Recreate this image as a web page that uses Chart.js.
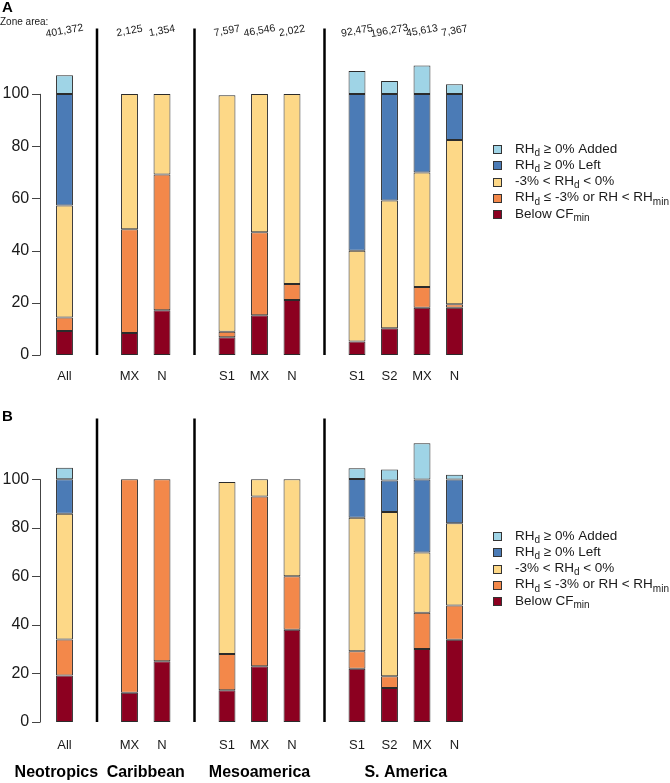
<!DOCTYPE html>
<html>
<head>
<meta charset="utf-8">
<script src="https://cdn.jsdelivr.net/npm/chart.js@4.4.0/dist/chart.umd.min.js"></script>
<style>
  body { margin: 0; background: #fff; }
  canvas { position: absolute; left: 0; }
  #chartA { top: 0; }
  #chartB { top: 390px; }
</style>
</head>
<body>
<canvas id="chartA" width="670" height="390"></canvas>
<canvas id="chartB" width="670" height="393"></canvas>
<script>
// categories (empty slots hold the black region separators)
const categories = ['All', '', 'MX', 'N', '', 'S1', 'MX', 'N', '', 'S1', 'S2', 'MX', 'N'];
const separatorSlots = [1, 4, 8];
const groupNames = ['Neotropics', 'Caribbean', 'Mesoamerica', 'S. America'];
const groupCentres = [-0.25, 2.5, 6, 10.5];
const zoneAreas = ['401,372', '', '2,125', '1,354', '', '7,597', '46,546', '2,022', '', '92,475', '196,273', '45,613', '7,367'];
const yTicks = [0, 20, 40, 60, 80, 100];

// panel A, percent of area per class
const belowA  = [9.2, null, 8.4, 17.1, null, 6.8, 15.2, 21.1, null, 5.2, 10.2, 18.1, 18.1];
const severeA = [5.2, null, 39.8, 52.0, null, 2.1, 31.8, 6.1, null, null, null, 7.9, 1.3];
const mildA   = [42.9, null, 51.8, 30.9, null, 90.6, 53.0, 72.8, null, 34.7, 49.0, 43.9, 62.9];
const leftA   = [42.7, null, null, null, null, null, null, null, null, 60.1, 40.8, 30.1, 17.7];
const addedA  = [7.1, null, null, null, null, null, null, null, null, 8.8, 4.9, 10.9, 3.7];

// panel B
const belowB  = [19.2, null, 12.1, 25.0, null, 13.1, 23.0, 38.0, null, 21.9, 14.0, 30.1, 33.9];
const severeB = [14.8, null, 87.9, 75.0, null, 14.9, 69.9, 22.0, null, 7.2, 4.8, 14.9, 14.1];
const mildB   = [51.8, null, null, null, null, 70.9, 7.1, 40.0, null, 55.0, 67.7, 24.8, 33.9];
const leftB   = [14.2, null, null, null, null, null, null, null, null, 16.0, 13.0, 30.1, 18.0];
const addedB  = [4.8, null, null, null, null, null, null, null, null, 4.4, 4.5, 14.9, 2.0];

// stacking order bottom -> top
const seriesNames = ['Below CFmin', 'RHd <= -3% or RH < RHmin', '-3% < RHd < 0%', 'RHd >= 0% Left', 'RHd >= 0% Added'];
const seriesColors = ['#8c0020', '#f3884a', '#fdd887', '#4b7bb6', '#9fd4e6'];
// legend, top -> bottom; {x} is a subscript
const legendLabels = ['RH{d} ≥ 0% Added', 'RH{d} ≥ 0% Left', '-3% < RH{d} < 0%', 'RH{d} ≤ -3% or RH < RH{min}', 'Below CF{min}'];

const FONT = '"Liberation Sans", Arial, sans-serif';
Chart.defaults.font.family = FONT;
Chart.defaults.color = '#1a1a1a';

function drawRich(ctx, x, y, text, size) {
    const parts = text.split(/\{(.*?)\}/);
    parts.forEach((p, i) => {
        const sub = i % 2 === 1;
        ctx.font = (sub ? Math.round(size * 0.72) : size) + 'px ' + FONT;
        ctx.fillText(p, x, y + (sub ? 4 : 0));
        x += ctx.measureText(p).width;
    });
}

function panelPlugin(opts) {
    return {
        id: 'panel' + opts.letter,
        afterDraw(chart) {
            const ctx = chart.ctx;
            const xs = chart.scales.x, ys = chart.scales.y;
            const area = chart.chartArea;
            ctx.save();

            // region separators
            ctx.strokeStyle = '#000';
            ctx.lineWidth = 2.5;
            separatorSlots.forEach(s => {
                const x = xs.getPixelForValue(s);
                ctx.beginPath();
                ctx.moveTo(x, area.top);
                ctx.lineTo(x, area.bottom);
                ctx.stroke();
            });

            // R-style y axis, 0..100 only
            const ax = 40.5;
            ctx.strokeStyle = '#444';
            ctx.lineWidth = 1;
            ctx.beginPath();
            ctx.moveTo(ax, ys.getPixelForValue(0));
            ctx.lineTo(ax, ys.getPixelForValue(100));
            yTicks.forEach(v => {
                const y = Math.round(ys.getPixelForValue(v)) + 0.5;
                ctx.moveTo(32, y);
                ctx.lineTo(ax, y);
            });
            ctx.stroke();

            // panel letter
            ctx.fillStyle = '#000';
            ctx.textBaseline = 'top';
            ctx.textAlign = 'left';
            ctx.font = 'bold 15px ' + FONT;
            ctx.fillText(opts.letter, 2, opts.letterY);

            if (opts.zone) {
                ctx.font = '10px ' + FONT;
                ctx.textBaseline = 'middle';
                ctx.fillStyle = '#1a1a1a';
                ctx.fillText('Zone area:', 0, 22);
                ctx.font = '10.5px ' + FONT;
                ctx.textAlign = 'center';
                zoneAreas.forEach((z, i) => {
                    if (!z) return;
                    ctx.save();
                    ctx.translate(xs.getPixelForValue(i), 31);
                    ctx.rotate(-10 * Math.PI / 180);
                    ctx.fillText(z, 0, 0);
                    ctx.restore();
                });
            }

            if (opts.groups) {
                ctx.font = 'bold 16px ' + FONT;
                ctx.textAlign = 'center';
                ctx.textBaseline = 'middle';
                ctx.fillStyle = '#000';
                groupNames.forEach((g, i) => {
                    ctx.fillText(g, xs.getPixelForValue(groupCentres[i]), opts.groupY);
                });
            }

            // legend
            ctx.textAlign = 'left';
            ctx.textBaseline = 'middle';
            legendLabels.forEach((lab, i) => {
                const y = opts.legendY + i * 16.25;
                const col = seriesColors[seriesColors.length - 1 - i];
                ctx.fillStyle = col;
                ctx.fillRect(493.5, Math.round(y - 4) + 0.5, 8, 8);
                ctx.strokeStyle = '#333';
                ctx.lineWidth = 1;
                ctx.strokeRect(493.5, Math.round(y - 4) + 0.5, 8, 8);
                ctx.fillStyle = '#1a1a1a';
                drawRich(ctx, 515, y, lab, 13.5);
            });
            ctx.restore();
        }
    };
}

function buildChart(id, series, opts) {
    const datasets = series.map((d, i) => ({
        label: seriesNames[i],
        data: d,
        backgroundColor: seriesColors[i],
        borderColor: '#2b2b2b',
        borderWidth: 1,
        borderSkipped: false,
        barPercentage: 0.52,
        categoryPercentage: 1
    }));
    return new Chart(document.getElementById(id), {
        type: 'bar',
        data: { labels: categories, datasets: datasets },
        options: {
            responsive: false,
            animation: false,
            layout: { padding: { left: 0, right: 199.25, top: opts.top, bottom: 0 } },
            plugins: { legend: { display: false }, tooltip: { enabled: false } },
            scales: {
                x: {
                    stacked: true,
                    grid: { display: false, drawTicks: false },
                    border: { display: false },
                    ticks: { font: { size: 13 }, padding: opts.xPad, maxRotation: 0, autoSkip: false },
                    afterFit(scale) { scale.height = opts.xHeight; }
                },
                y: {
                    stacked: true,
                    min: 0,
                    max: 125,
                    grid: { display: false, drawTicks: false },
                    border: { display: false },
                    ticks: { font: { size: 16 }, padding: 19 },
                    afterBuildTicks(scale) { scale.ticks = yTicks.map(v => ({ value: v })); },
                    afterFit(scale) { scale.width = 48.25; }
                }
            }
        },
        plugins: [panelPlugin(opts)]
    });
}

buildChart('chartA', [belowA, severeA, mildA, leftA, addedA],
    { letter: 'A', letterY: 0, top: 7.5, xHeight: 35, xPad: 14, zone: true, groups: false, legendY: 149 });
buildChart('chartB', [belowB, severeB, mildB, leftB, addedB],
    { letter: 'B', letterY: 19, top: 25.75, xHeight: 61, xPad: 16, zone: false, groups: true, groupY: 383, legendY: 146 });
</script>
</body>
</html>
